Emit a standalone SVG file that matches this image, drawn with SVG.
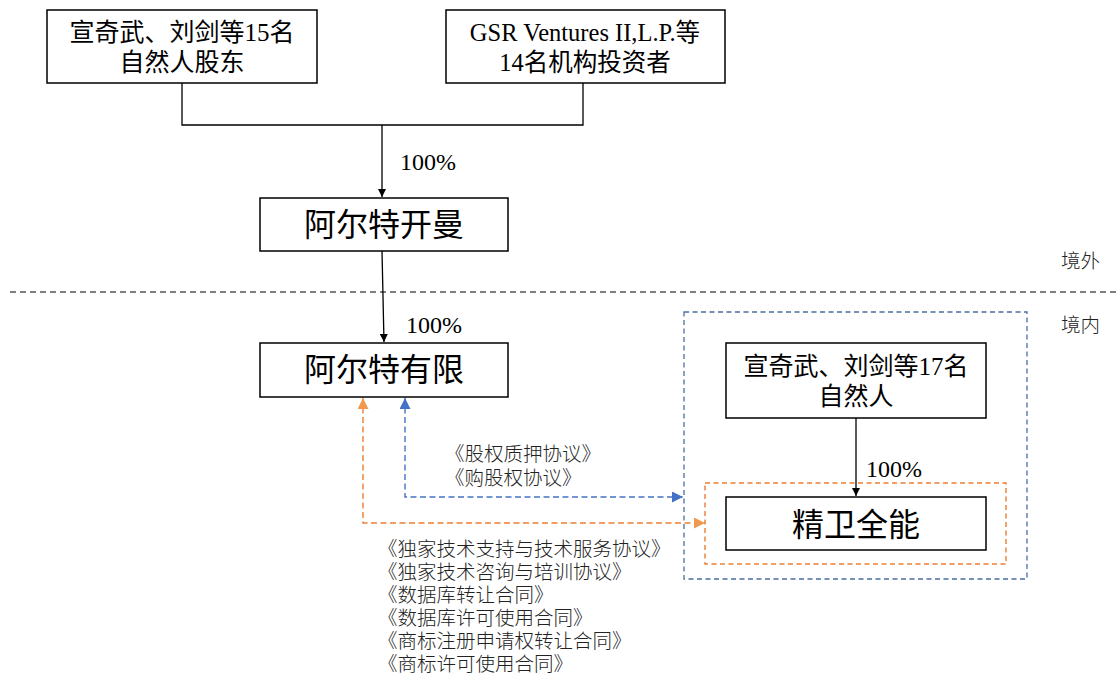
<svg xmlns="http://www.w3.org/2000/svg" width="1119" height="682" viewBox="0 0 1119 682">
<style>
.box{fill:#fff;stroke:#000;stroke-width:1.5}
.t{font-family:"Liberation Serif","Noto Sans CJK SC",serif;fill:#000;text-anchor:middle}
.s{font-family:"Noto Sans CJK SC",sans-serif;fill:#222;font-size:19.5px;font-weight:300}
.ln{fill:none;stroke:#000;stroke-width:1.3}
.bl{fill:none;stroke:#4472C4;stroke-width:1.4;stroke-dasharray:6 3.5}
.or{fill:none;stroke:#ED7D31;stroke-width:1.4;stroke-dasharray:6 3.5}
</style>
<defs>
<marker id="ab" viewBox="0 0 10 10" refX="10" refY="5" markerWidth="8" markerHeight="8" markerUnits="userSpaceOnUse" orient="auto"><path d="M0,0 L10,5 L0,10 z" fill="#000"/></marker>
<marker id="abl" viewBox="0 0 10 10" refX="10" refY="5" markerWidth="11" markerHeight="11" markerUnits="userSpaceOnUse" orient="auto-start-reverse"><path d="M0,0 L10,5 L0,10 z" fill="#4472C4"/></marker>
<marker id="aor" viewBox="0 0 10 10" refX="10" refY="5" markerWidth="11" markerHeight="11" markerUnits="userSpaceOnUse" orient="auto-start-reverse"><path d="M0,0 L10,5 L0,10 z" fill="#F09A50"/></marker>
</defs>
<rect width="1119" height="682" fill="#fff"/>

<g id="n1"><rect class="box" x="47" y="10" width="270" height="73"/>
<text class="t" x="182" y="41" font-size="25">宣奇武、刘剑等15名</text>
<text class="t" x="182" y="71" font-size="25">自然人股东</text></g>

<g id="n2"><rect class="box" x="446" y="10" width="279" height="73"/>
<text class="t" x="585" y="41" font-size="24.5">GSR Ventures II,L.P.等</text>
<text class="t" x="585" y="71" font-size="24.5">14名机构投资者</text></g>

<g id="n3"><rect class="box" x="260" y="198" width="248" height="53"/>
<text class="t" x="384" y="236" font-size="32">阿尔特开曼</text></g>

<g id="n4"><rect class="box" x="260" y="343" width="248" height="54"/>
<text class="t" x="384" y="381" font-size="32">阿尔特有限</text></g>

<g id="grp"><rect x="684" y="312" width="343" height="267" fill="none" stroke="#4A6FA5" stroke-width="1.3" stroke-dasharray="5 3.5"/>
<rect x="705" y="483" width="301" height="81" fill="none" stroke="#ED7D31" stroke-width="1.4" stroke-dasharray="5 3.5"/></g>

<g id="n5"><rect class="box" x="726" y="343" width="260" height="75"/>
<text class="t" x="856" y="375" font-size="25">宣奇武、刘剑等17名</text>
<text class="t" x="856" y="405" font-size="25">自然人</text></g>

<g id="n6"><rect class="box" x="726" y="497" width="260" height="53"/>
<text class="t" x="856" y="536" font-size="32">精卫全能</text></g>

<g id="connectors">
<polyline class="ln" points="182,83 182,125 583,125 583,83"/>
<line class="ln" x1="382" y1="125" x2="382" y2="197" marker-end="url(#ab)"/>
<line class="ln" x1="382" y1="251" x2="384" y2="342" marker-end="url(#ab)"/>
<line class="ln" x1="856" y1="418" x2="856" y2="496" marker-end="url(#ab)"/>
<polyline class="bl" points="405,398 405,497 683,497" marker-start="url(#abl)" marker-end="url(#abl)"/>
<polyline class="or" points="363,398 363,523 705,523" marker-start="url(#aor)" marker-end="url(#aor)"/>
</g>

<line x1="10" y1="292" x2="1119" y2="292" stroke="#000" stroke-width="1.2" stroke-dasharray="6 4"/>

<g id="labels">
<text class="t" x="428" y="170" font-size="24">100%</text>
<text class="t" x="434" y="333" font-size="24">100%</text>
<text class="t" x="894" y="477" font-size="24">100%</text>
<text class="s" x="1061" y="268">境外</text>
<text class="s" x="1061" y="332">境内</text>
<text class="s"><tspan x="445" y="461">《股权质押协议》</tspan><tspan x="445" y="485">《购股权协议》</tspan></text>
<text class="s"><tspan x="378" y="556">《独家技术支持与技术服务协议》</tspan><tspan x="378" y="579">《独家技术咨询与培训协议》</tspan><tspan x="378" y="602">《数据库转让合同》</tspan><tspan x="378" y="625">《数据库许可使用合同》</tspan><tspan x="378" y="648">《商标注册申请权转让合同》</tspan><tspan x="378" y="671">《商标许可使用合同》</tspan></text>
</g>
</svg>
